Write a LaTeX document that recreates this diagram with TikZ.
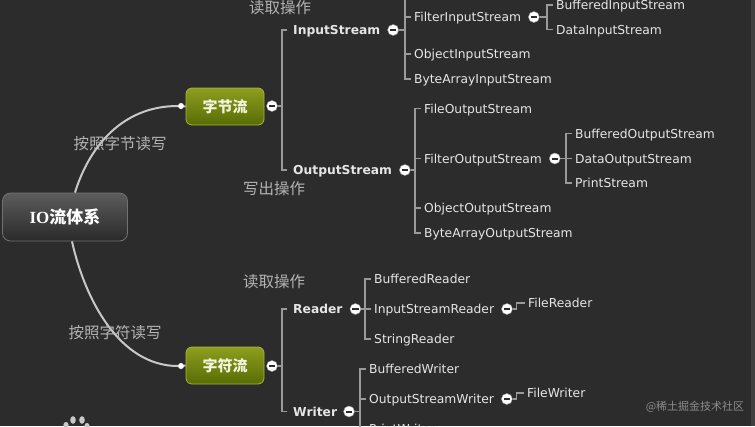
\documentclass[tikz,border=0pt]{standalone}
\usepackage{fontspec}
\setmainfont{DejaVu Sans}
\newfontfamily\cjk{Noto Sans CJK SC}
\newfontfamily\serifb{Liberation Serif}
\usetikzlibrary{positioning}

\definecolor{bg}{HTML}{2C2C2C}
\definecolor{leaftext}{HTML}{E6E6E6}
\definecolor{notetext}{HTML}{B4B4B4}
\definecolor{brline}{HTML}{9A9A9A}
\definecolor{limbline}{HTML}{C8C8C8}
\definecolor{topictop}{HTML}{8E9E20}
\definecolor{topicbot}{HTML}{586C04}
\definecolor{topicline}{HTML}{A8B43A}
\definecolor{topictext}{HTML}{F4F4DE}
\definecolor{roottop}{HTML}{5C5C5C}
\definecolor{rootbot}{HTML}{2A2A2A}
\definecolor{rootline}{HTML}{727272}
\definecolor{wmarktext}{HTML}{8C8C8C}

\begin{document}
\begin{tikzpicture}[x=1pt,y=-1pt,
    leaf/.style={anchor=west,inner sep=0pt,text height=9pt,text depth=0pt,text=leaftext,
      font=\fontsize{12.3}{14}\selectfont},
    branch/.style={leaf,font=\fontsize{12.3}{14}\selectfont\bfseries},
    cnnote/.style={inner sep=0pt,text=notetext,font=\cjk\fontsize{15.5}{17}\selectfont},
    topic/.style={rounded corners=6pt,draw=topicline,line width=0.8pt,top color=topictop,
      bottom color=topicbot,text=topictext,font=\cjk\bfseries\fontsize{15}{17}\selectfont,
      minimum width=78pt,minimum height=37pt,inner sep=0pt},
    rootbox/.style={rounded corners=8pt,draw=rootline,line width=0.8pt,top color=roottop,
      bottom color=rootbot,text=white,font=\cjk\bfseries\fontsize{17}{19}\selectfont,
      minimum width=125pt,minimum height=48pt,inner sep=0pt},
    fold/.style={circle,fill=white,draw=brline,line width=0.4pt,minimum size=11pt,inner sep=0pt,
      path picture={\draw[line width=2pt,bg]
        ([xshift=-3.2pt]path picture bounding box.center) --
        ([xshift=3.2pt]path picture bounding box.center);}},
    knob/.style={circle,fill=white,minimum size=6pt,inner sep=0pt},
    br/.style={draw=brline,line width=1.1pt},
    limb/.style={draw=limbline,line width=2pt},
    wmark/.style={inner sep=0pt,text=wmarktext,font=\cjk\fontsize{11}{13}\selectfont}]

  \fill[bg] (0,0) rectangle (755,426);
  \useasboundingbox (0,0) rectangle (755,426);
  \clip (0,0) rectangle (755,426);
  \fill[black!75] (751,0) rectangle (755,426);

  % root and the two main topics
  \node[rootbox] (root) at (65,217) {{\serifb\bfseries IO}流体系};
  \node[topic] (byte) at (225,106.5) {字节流};
  \node[topic] (char) at (225,365.5) {字符流};
  \node[knob] (bytein) at (181,106) {};
  \node[knob] (charin) at (181,366) {};
  \node[fold] (bytefold) at (272,106) {};
  \node[fold] (charfold) at (272,366) {};

  \draw[limb] ([xshift=10pt]root.north) .. controls (88,150) and (120,106) .. (bytein);
  \draw[limb] ([xshift=7pt]root.south) .. controls (85,300) and (120,366) .. (charin);
  \draw[limb] (bytein) -- (byte.west);
  \draw[limb] (charin) -- (char.west);

  \node[cnnote] (bytenote) at (120,144) {按照字节读写};
  \node[cnnote] (charnote) at (115,333) {按照字符读写};
  \node[cnnote] (innote) at (280,8) {读取操作};
  \node[cnnote] (outnote) at (274,189) {写出操作};
  \node[cnnote] (readnote) at (274,282) {读取操作};

  % byte streams
  \node[branch] (ins) at (293,30) {InputStream};
  \node[branch] (outs) at (293,170) {OutputStream};
  \node[fold,right=7pt of ins] (insfold) {};
  \node[fold,right=7pt of outs] (outsfold) {};

  \node[leaf] (fltin) at (414,17) {FilterInputStream};
  \node[leaf] (objin) at (414,54) {ObjectInputStream};
  \node[leaf] (bytesin) at (414,79) {ByteArrayInputStream};
  \node[fold,right=7pt of fltin] (fltinfold) {};
  \node[leaf] (bufin) at (556,5) {BufferedInputStream};
  \node[leaf] (datain) at (556,29.5) {DataInputStream};

  \node[leaf] (fileout) at (424,108.5) {FileOutputStream};
  \node[leaf] (fltout) at (424,158.5) {FilterOutputStream};
  \node[leaf] (objout) at (424,208) {ObjectOutputStream};
  \node[leaf] (bytesout) at (424,233) {ByteArrayOutputStream};
  \node[fold,right=7pt of fltout] (fltoutfold) {};
  \node[leaf] (bufout) at (575,133.5) {BufferedOutputStream};
  \node[leaf] (dataout) at (575,158.5) {DataOutputStream};
  \node[leaf] (prtout) at (575,183) {PrintStream};

  % char streams
  \node[branch] (rdr) at (293,309) {Reader};
  \node[branch] (wtr) at (293,411.5) {Writer};
  \node[fold,right=7pt of rdr] (rdrfold) {};
  \node[fold,right=6pt of wtr] (wtrfold) {};

  \node[leaf] (bufrd) at (374,279) {BufferedReader};
  \node[leaf] (isr) at (374,309) {InputStreamReader};
  \node[leaf] (strrd) at (374,339) {StringReader};
  \node[fold,right=7pt of isr] (isrfold) {};
  \node[leaf] (filerd) at (528,303) {FileReader};

  \node[leaf] (bufwr) at (369,369) {BufferedWriter};
  \node[leaf] (osw) at (369,399) {OutputStreamWriter};
  \node[leaf] (prtwr) at (369,429) {PrintWriter};
  \node[fold,right=7pt of osw] (oswfold) {};
  \node[leaf] (filewr) at (527,393) {FileWriter};

  % spines
  \coordinate (bytex) at ([xshift=-11pt]ins.west);
  \coordinate (charx) at ([xshift=-11pt]rdr.west);
  \coordinate (inx) at ([xshift=-9pt]fltin.west);
  \coordinate (intop) at (inx |- 0,-2);
  \coordinate (fltinx) at ([xshift=-9pt]bufin.west);
  \coordinate (outx) at ([xshift=-9pt]fileout.west);
  \coordinate (fltoutx) at ([xshift=-9pt]bufout.west);
  \coordinate (rdrx) at ([xshift=-9pt]bufrd.west);
  \coordinate (wtrx) at ([xshift=-9pt]bufwr.west);

  \draw[br] ([xshift=-6pt]ins.west) -| ([xshift=-11pt]outs.west) -- ([xshift=-6pt]outs.west);
  \draw[br] (bytefold.east) -- (bytefold.east -| bytex);
  \draw[br] ([xshift=-6pt]rdr.west) -| ([xshift=-11pt]wtr.west) -- ([xshift=-6pt]wtr.west);
  \draw[br] (charfold.east) -- (charfold.east -| charx);

  \draw[br] (intop) |- ([xshift=-3pt]bytesin.west);
  \draw[br] ([xshift=-3pt]fltin.west) -- (inx);
  \draw[br] ([xshift=-3pt]objin.west) -- (objin.west -| inx);
  \draw[br] (insfold.east) -- (insfold.east -| inx);
  \draw[br] ([xshift=-3pt]bufin.west) -| ([xshift=-9pt]datain.west) -- ([xshift=-3pt]datain.west);
  \draw[br] (fltinfold.east) -- (fltinfold.east -| fltinx);

  \draw[br] ([xshift=-3pt]fileout.west) -| ([xshift=-9pt]bytesout.west) -- ([xshift=-3pt]bytesout.west);
  \draw[br] ([xshift=-3pt]fltout.west) -- (fltout.west -| outx);
  \draw[br] ([xshift=-3pt]objout.west) -- (objout.west -| outx);
  \draw[br] (outsfold.east) -- (outsfold.east -| outx);
  \draw[br] ([xshift=-3pt]bufout.west) -| ([xshift=-9pt]prtout.west) -- ([xshift=-3pt]prtout.west);
  \draw[br] ([xshift=-3pt]dataout.west) -- ([xshift=-9pt]dataout.west);
  \draw[br] (fltoutfold.east) -- (fltoutfold.east -| fltoutx);

  \draw[br] ([xshift=-3pt]bufrd.west) -| ([xshift=-9pt]strrd.west) -- ([xshift=-3pt]strrd.west);
  \draw[br] ([xshift=-3pt]isr.west) -- (isr.west -| rdrx);
  \draw[br] (rdrfold.east) -- (rdrfold.east -| rdrx);
  \draw[br] (isrfold.east) -- ++(4pt,0) |- ([xshift=-3pt]filerd.west);

  \draw[br] ([xshift=-3pt]bufwr.west) -| ([xshift=-9pt]prtwr.west) -- ([xshift=-3pt]prtwr.west);
  \draw[br] ([xshift=-3pt]osw.west) -- (osw.west -| wtrx);
  \draw[br] (wtrfold.east) -- (wtrfold.east -| wtrx);
  \draw[br] (oswfold.east) -- ++(4pt,0) |- ([xshift=-3pt]filewr.west);

  % corner marks
  \fill[limbline] (73,420) ellipse [x radius=2.8pt,y radius=3.8pt];
  \fill[limbline] (82,420) ellipse [x radius=2.8pt,y radius=3.8pt];
  \fill[limbline] (66,425) ellipse [x radius=2.6pt,y radius=3pt];
  \fill[limbline] (87,426) ellipse [x radius=2.6pt,y radius=3pt];
  \node[wmark] (wm) at (695,407) {@稀土掘金技术社区};
\end{tikzpicture}
\end{document}
